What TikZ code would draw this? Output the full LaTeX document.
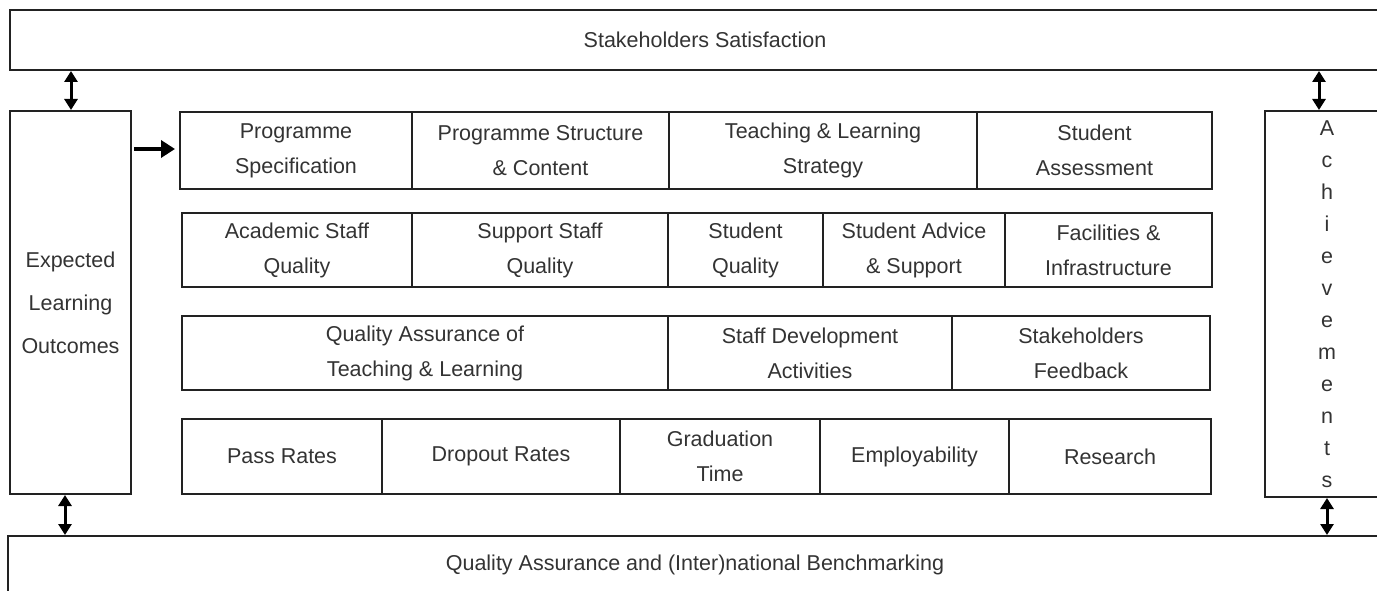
\documentclass[tikz,border=0pt]{standalone}
\usepackage{fontspec}
\setmainfont{Liberation Sans}
\usetikzlibrary{arrows.meta,calc}
\definecolor{ln}{HTML}{222222}
\definecolor{tx}{HTML}{333333}
\begin{document}
\begin{tikzpicture}[x=1pt,y=-1pt,
  cell/.style={draw=ln, line width=2.2pt, inner sep=0pt, outer sep=0pt, text=tx, align=center,
    font=\fontsize{21.5}{35}\selectfont},
  lbl/.style={text=tx, align=center, inner sep=0pt, font=\fontsize{21.5}{35}\selectfont},
  dbl/.style={{Triangle[length=11pt,width=13pt]}-{Triangle[length=11pt,width=13pt]}, line width=3pt, draw=black, shorten <=1pt, shorten >=1pt},
  one/.style={-{Triangle[length=14pt,width=17pt]}, line width=4pt, draw=black}]
\useasboundingbox (0,0) rectangle (1377,591);
\clip (0,0) rectangle (1377,591);
% frame boxes
\node[cell, minimum width=1390, minimum height=60] (sat) at (705,40) {Stakeholders Satisfaction};
\node[cell, minimum width=1374, minimum height=100] (qab) at (695,586) {};
\node[lbl] (qabt) at (695,565) {Quality Assurance and (Inter)national Benchmarking};
\node[cell, minimum width=121, minimum height=383, font=\fontsize{21.5}{43}\selectfont] (elo) at (70.5,302.5) {Expected\\Learning\\Outcomes};
\node[cell, minimum width=124, minimum height=386] (ach) at (1327,304) {};
\node[lbl, font=\fontsize{21.5}{32}\selectfont] (acht) at (ach.center) {A\\c\\h\\i\\e\\v\\e\\m\\e\\n\\t\\s};
% row 1
\node[cell, minimum width=232, minimum height=77] (r1a) at (296,150.5) {Programme\\Specification};
\node[cell, minimum width=257, minimum height=77] (r1b) at (540.5,150.5) {Programme Structure\\\& Content};
\node[cell, minimum width=308, minimum height=77] (r1c) at (823,150.5) {Teaching \& Learning\\Strategy};
\node[cell, minimum width=235, minimum height=77] (r1d) at (1094.5,150.5) {Student\\Assessment};
% row 2
\node[cell, minimum width=230, minimum height=74] (r2a) at (297,250) {Academic Staff\\Quality};
\node[cell, minimum width=256, minimum height=74] (r2b) at (540,250) {Support Staff\\Quality};
\node[cell, minimum width=155, minimum height=74] (r2c) at (745.5,250) {Student\\Quality};
\node[cell, minimum width=182, minimum height=74] (r2d) at (914,250) {Student Advice\\\& Support};
\node[cell, minimum width=207, minimum height=74] (r2e) at (1108.5,250) {Facilities \&\\Infrastructure};
% row 3
\node[cell, minimum width=486, minimum height=74] (r3a) at (425,353) {Quality Assurance of\\Teaching \& Learning};
\node[cell, minimum width=284, minimum height=74] (r3b) at (810,353) {Staff Development\\Activities};
\node[cell, minimum width=258, minimum height=74] (r3c) at (1081,353) {Stakeholders\\Feedback};
% row 4
\node[cell, minimum width=200, minimum height=75] (r4a) at (282,456.5) {Pass Rates};
\node[cell, minimum width=238, minimum height=75] (r4b) at (501,456.5) {Dropout Rates};
\node[cell, minimum width=200, minimum height=75] (r4c) at (720,456.5) {Graduation\\Time};
\node[cell, minimum width=189, minimum height=75] (r4d) at (914.5,456.5) {Employability};
\node[cell, minimum width=202, minimum height=75] (r4e) at (1110,456.5) {Research};
% connectors
\draw[dbl] ([xshift=0.5pt]elo.north) -- ([xshift=0.5pt]elo.north |- sat.south);
\draw[dbl] ([xshift=-5.5pt]elo.south) -- ([xshift=-5.5pt]elo.south |- qab.north);
\draw[dbl] ([xshift=-8pt]ach.north) -- ([xshift=-8pt]ach.north |- sat.south);
\draw[dbl] (ach.south) -- (ach.south |- qab.north);
\coordinate (ae) at ([xshift=3pt,yshift=1.5pt]elo.east |- r1a.west);
\draw[one] (ae) -- ([xshift=-5pt,yshift=1.5pt]r1a.west);
\end{tikzpicture}
\end{document}
